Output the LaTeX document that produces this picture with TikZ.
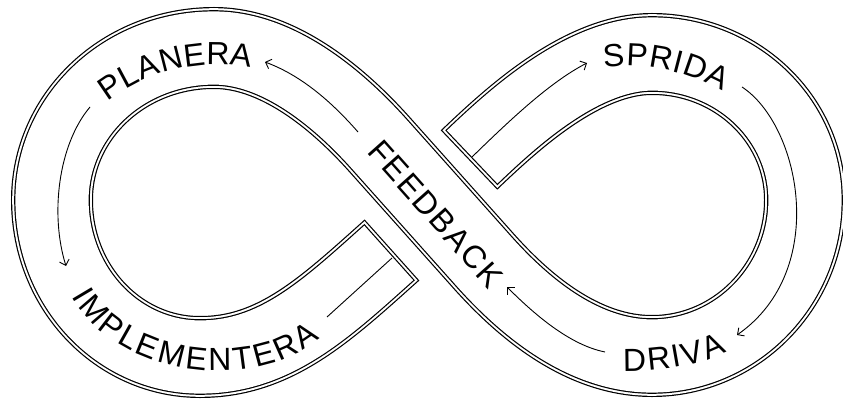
\documentclass[tikz,border=0pt]{standalone}
\usepackage{fontspec}
\newfontfamily\lab{Liberation Sans}
\newcommand\labfont{\lab\fontsize{32}{38}\selectfont}
\usetikzlibrary{arrows.meta,decorations.text}
\newcommand\infpath{(392,250) .. controls (325,310) and (275,357) .. (200,357)
 .. controls (118,357) and (52,287) .. (52,200)
 .. controls (52,116) and (124,48) .. (214,48)
 .. controls (284,48) and (347,108) .. (380,145)
 -- (480,257)
 .. controls (516,298) and (577,356) .. (652,356)
 .. controls (736,356) and (805,286) .. (805,200)
 .. controls (805,119) and (736,54) .. (652,54)
 .. controls (582,54) and (512,119) .. (469,160)}
\tikzset{
  flow/.style={line width=0.9pt, -{Straight Barb[length=5pt,width=10pt]}},
  flowplain/.style={line width=0.9pt},
  lbl/.style={decorate, decoration={text along path, text align={fit to path}, text={|\labfont|#1}}}
}
\begin{document}
\begin{tikzpicture}[x=1pt,y=-1pt]
\useasboundingbox (0,0) rectangle (843,401);
\fill[white] (0,0) rectangle (843,401);
% band with double-line edges
\draw[line width=82pt, black, line cap=butt] \infpath;
\draw[line width=79.6pt, white, line cap=butt, shorten <=1.2pt, shorten >=1.2pt] \infpath;
\draw[line width=75.6pt, black, line cap=butt, shorten <=3.2pt, shorten >=3.2pt] \infpath;
\draw[line width=73.2pt, white, line cap=butt, shorten <=4.4pt, shorten >=4.4pt] \infpath;
% arrow end points
\coordinate (a1s) at (358,132); \coordinate (a1e) at (265,62);
\coordinate (a2s) at (90,107);  \coordinate (a2e) at (66,266);
\coordinate (a3s) at (327,317); \coordinate (a3e) at (392,258);
\coordinate (a4s) at (472,157); \coordinate (a4e) at (587,63);
\coordinate (a5s) at (742,87);  \coordinate (a5e) at (737,335);
\coordinate (a6s) at (605,352); \coordinate (a6e) at (507,287);
\draw[flow] (a1s) .. controls (330,100) and (300,75) .. (a1e);
\draw[flow] (a2s) .. controls (58,145) and (50,215) .. (a2e);
\draw[flowplain] (a3s) -- (a3e);
\draw[flow] (a4s) .. controls (510,120) and (550,82) .. (a4e);
\draw[flow] (a5s) .. controls (800,125) and (830,270) .. (a5e);
\draw[flow] (a6s) .. controls (570,345) and (535,315) .. (a6e);
% labels
\path[lbl=PLANERA] (108,102) .. controls (150,70) and (200,58) .. (251,68);
\path[lbl=IMPLEMENTERA] (72,296) .. controls (115,375) and (250,395) .. (320,338);
\path[lbl=SPRIDA] (604,68) .. controls (640,62) and (685,70) .. (723,91);
\path[lbl=DRIVA] (623,371) .. controls (660,372) and (700,366) .. (727,351);
\path[lbl=FEEDBACK] (366,152) -- (489,290);
\end{tikzpicture}
\end{document}
